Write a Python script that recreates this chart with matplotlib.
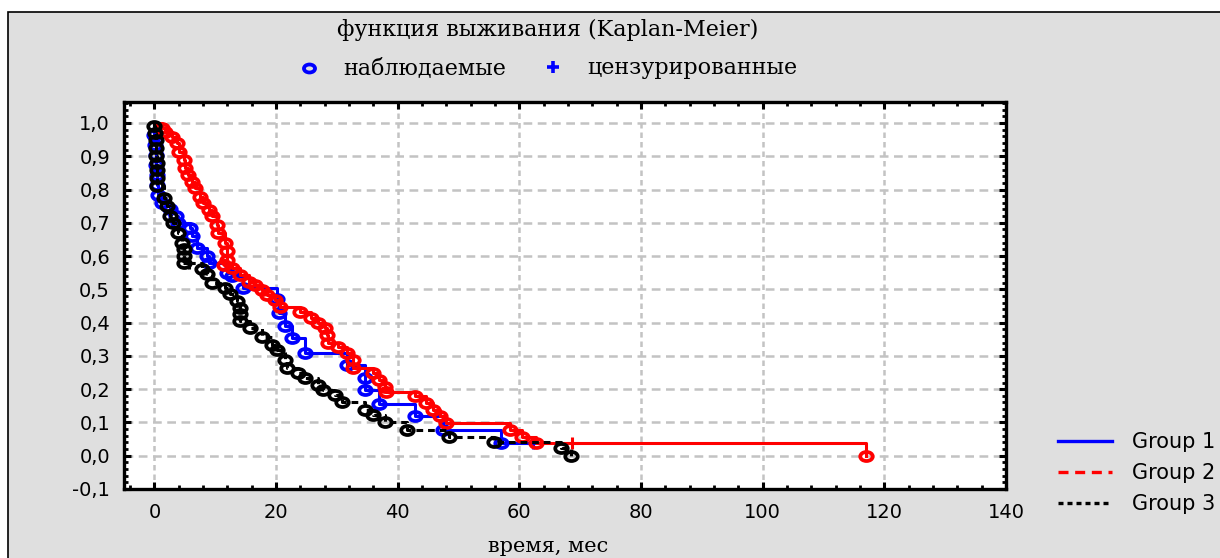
import numpy as np
import matplotlib.pyplot as plt
from matplotlib.path import Path
from matplotlib.transforms import Affine2D
from matplotlib.lines import Line2D
from matplotlib.patches import Rectangle
from matplotlib.ticker import MultipleLocator, FuncFormatter

# Kaplan-Meier estimates: event times (months) and survival after each event
g1_time = [0.0, 0.1, 0.2, 0.3, 0.4, 0.5, 0.6, 1.2, 2.6, 3.5, 3.9, 5.8, 6.2, 7.0,
           8.6, 9.0, 11.9, 12.7, 14.6, 20.2, 20.4, 21.5, 22.6, 24.8, 31.6,
           34.6, 34.6, 37.0, 42.8, 47.4, 57.0]
g1_surv = [0.965, 0.935, 0.905, 0.875, 0.845, 0.815, 0.785, 0.76, 0.74, 0.72,
           0.70, 0.685, 0.66, 0.625, 0.60, 0.58, 0.55, 0.54, 0.505, 0.47,
           0.43, 0.39, 0.353, 0.31, 0.273, 0.233, 0.198, 0.156, 0.118,
           0.078, 0.038]
g1_cens_time = [62.2]
g1_cens_surv = [0.038]

g2_time = [1.3, 1.8, 2.9, 3.7, 4.0, 4.8, 5.1, 5.6, 6.2, 6.7, 7.5, 8.0, 8.9, 9.5,
           10.3, 10.5, 11.6, 11.9, 11.9, 11.4, 12.7, 14.1, 15.5, 16.6, 17.7,
           18.5, 19.8, 20.7, 23.9, 25.8, 26.9, 28.0, 28.3, 28.6, 30.2, 31.6,
           32.7, 32.7, 35.9, 37.0, 37.9, 38.1, 42.8, 44.7, 45.8, 46.9, 48.0,
           58.4, 60.5, 62.8, 117.0]
g2_surv = [0.985, 0.972, 0.958, 0.939, 0.914, 0.889, 0.865, 0.843, 0.823,
           0.805, 0.779, 0.76, 0.739, 0.719, 0.694, 0.669, 0.639, 0.614,
           0.589, 0.573, 0.564, 0.544, 0.523, 0.514, 0.498, 0.483, 0.468,
           0.448, 0.433, 0.413, 0.398, 0.383, 0.363, 0.338, 0.328, 0.308,
           0.288, 0.263, 0.248, 0.228, 0.208, 0.193, 0.178, 0.158, 0.138,
           0.118, 0.098, 0.078, 0.057, 0.039, 0.0]
g2_cens_time = [68.7]
g2_cens_surv = [0.039]

g3_time = [0.0, 0.1, 0.2, 0.3, 0.3, 0.4, 0.4, 0.5, 0.5, 1.5, 2.0, 2.6, 3.1, 3.8,
           4.6, 4.8, 4.8, 4.8, 7.9, 8.7, 9.5, 11.6, 12.5, 13.6, 14.0, 14.0,
           14.0, 15.7, 17.7, 19.4, 20.2, 21.5, 21.8, 23.6, 24.8, 26.9, 27.7,
           29.7, 30.8, 34.6, 35.9, 37.9, 41.5, 48.5, 55.9, 66.9, 68.5]
g3_surv = [0.99, 0.97, 0.95, 0.925, 0.90, 0.88, 0.86, 0.835, 0.81, 0.775,
           0.75, 0.72, 0.70, 0.67, 0.64, 0.62, 0.60, 0.58, 0.56, 0.545, 0.52,
           0.505, 0.485, 0.465, 0.445, 0.425, 0.405, 0.385, 0.357, 0.333,
           0.318, 0.288, 0.264, 0.25, 0.234, 0.213, 0.198, 0.183, 0.16,
           0.138, 0.123, 0.102, 0.078, 0.057, 0.042, 0.024, 0.0]
g3_cens_time = [5.7]
g3_cens_surv = [0.58]

group_names = ['Group 1', 'Group 2', 'Group 3']

x_ticks = [0, 20, 40, 60, 80, 100, 120, 140]
y_ticks = [-0.1, 0.0, 0.1, 0.2, 0.3, 0.4, 0.5, 0.6, 0.7, 0.8, 0.9, 1.0]

###################################################################################################

BG = '#dfdfdf'
GRID = '#c3c3c3'
SANS = 'DejaVu Sans'
SERIF = 'DejaVu Serif'

# flattened circle used for observed events
ellipse = Affine2D().scale(1.0, 0.72).transform_path(Path.unit_circle())
MS, MEW = 9.0, 2.7

fig = plt.figure(figsize=(12.2, 5.58), dpi=100, facecolor='white')
fig.patches.append(Rectangle((8 / 1220, -0.1), 1.2, 1.1 - 12 / 558,
                             transform=fig.transFigure, facecolor=BG,
                             edgecolor='black', linewidth=1.2, zorder=-10))

ax = fig.add_axes([124 / 1220, 1 - 489 / 558, (1006 - 124) / 1220, (489 - 102) / 558])
ax.set_facecolor('white')


def km_step(time, surv, cens_time):
    """Build step coordinates, carrying the curve to the last censored time."""
    xs = [0.0] + list(time)
    ys = [1.0] + list(surv)
    if cens_time and max(cens_time) > xs[-1]:
        xs.append(max(cens_time))
        ys.append(ys[-1])
    return xs, ys


groups = [
    (g1_time, g1_surv, g1_cens_time, g1_cens_surv, '#0000ff', '-'),
    (g2_time, g2_surv, g2_cens_time, g2_cens_surv, '#ff0000', '-'),
    (g3_time, g3_surv, g3_cens_time, g3_cens_surv, '#000000', (0, (2.2, 1.6))),
]

for i, (t, s, ct, cs, col, ls) in enumerate(groups):
    xs, ys = km_step(t, s, ct)
    ax.plot(xs, ys, drawstyle='steps-post', color=col, linestyle=ls,
            linewidth=2.2, zorder=3 + i)
    ax.plot(t, s, linestyle='none', marker=ellipse, markersize=MS,
            markerfacecolor='none', markeredgecolor=col, markeredgewidth=MEW,
            zorder=3 + i)
    ax.plot(ct, cs, linestyle='none', marker='+', markersize=9,
            markeredgecolor=col, markeredgewidth=2.2, zorder=3 + i)

ax.set_xlim(-5, 140)
ax.set_ylim(-0.1, 1.063)
ax.set_xticks(x_ticks)
ax.set_yticks(y_ticks)
ax.xaxis.set_minor_locator(MultipleLocator(4))
ax.yaxis.set_minor_locator(MultipleLocator(0.02))
ax.yaxis.set_major_formatter(FuncFormatter(lambda v, p: f'{v:.1f}'.replace('.', ',')))

ax.tick_params(which='major', direction='in', length=5, width=2.2, top=True,
               right=True, labelsize=14, pad=10, colors='black')
ax.tick_params(which='minor', direction='in', length=3, width=2.0, top=True,
               right=True)
for lab in ax.get_xticklabels() + ax.get_yticklabels():
    lab.set_fontfamily(SANS)
for sp in ax.spines.values():
    sp.set_linewidth(2.4)

ax.yaxis.grid(True, color=GRID, linestyle=(0, (3.5, 2.2)), linewidth=1.8, zorder=1)
ax.xaxis.grid(True, color=GRID, linestyle=(0, (2.2, 1.6)), linewidth=1.8, zorder=1)
ax.set_axisbelow(True)

# titles and marker key above the plot
fig.text(548 / 1220, 1 - 30 / 558, 'функция выживания (Kaplan-Meier)',
         ha='center', va='center', fontsize=16, family=SERIF)
fig.text(343 / 1220, 1 - 68 / 558, 'наблюдаемые', ha='left', va='center',
         fontsize=16, family=SERIF)
fig.text(587 / 1220, 1 - 68 / 558, 'цензурированные', ha='left', va='center',
         fontsize=16, family=SERIF)
fig.add_artist(Line2D([309 / 1220], [1 - 68 / 558], transform=fig.transFigure,
                      marker=ellipse, markersize=MS - 1, markerfacecolor='none',
                      markeredgecolor='#0000ff', markeredgewidth=MEW))
fig.add_artist(Line2D([553 / 1220], [1 - 67 / 558], transform=fig.transFigure,
                      marker='+', markersize=9, markeredgecolor='#0000ff',
                      markeredgewidth=2.6))
fig.text(548 / 1220, 1 - 546 / 558, 'время, мес', ha='center', va='center',
         fontsize=15, family=SERIF)

# group legend to the right of the axes
handles = [
    Line2D([], [], color='#0000ff', linewidth=2.4, linestyle='-'),
    Line2D([], [], color='#ff0000', linewidth=2.4, linestyle=(0, (3, 2))),
    Line2D([], [], color='#000000', linewidth=2.4, linestyle=(0, (1.5, 1.2))),
]
leg = fig.legend(handles, group_names, loc='upper left',
                 bbox_to_anchor=(1058 / 1220, 1 - 432 / 558), frameon=False,
                 borderpad=0, borderaxespad=0, handlelength=2.6,
                 handletextpad=0.95, labelspacing=0.54,
                 prop={'family': SANS, 'size': 15})

fig.savefig('out.png', dpi=100, facecolor=fig.get_facecolor())
